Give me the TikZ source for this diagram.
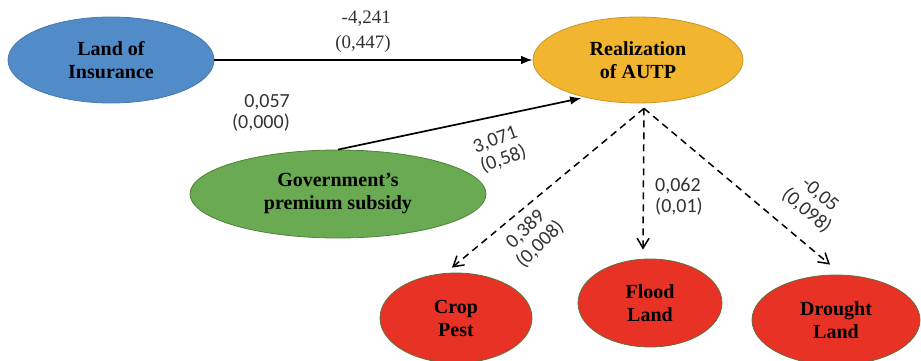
\documentclass[tikz,border=0pt]{standalone}
\usepackage{fontspec}
\setmainfont{Liberation Serif}
\newfontfamily\numfont{Carlito}
\usepackage{xcolor}
\usepackage{tikz}
\usetikzlibrary{arrows.meta,positioning,shapes.geometric}
\definecolor{landblue}{RGB}{81,139,200}
\definecolor{landedge}{RGB}{70,120,175}
\definecolor{autpgold}{RGB}{242,181,47}
\definecolor{autpedge}{RGB}{200,150,40}
\definecolor{subsgreen}{RGB}{106,170,82}
\definecolor{subsedge}{RGB}{80,130,55}
\definecolor{riskred}{RGB}{232,50,38}
\definecolor{riskedge}{RGB}{100,110,60}
\tikzset{
  factor/.style={ellipse, draw, line width=0.8pt, align=center, inner sep=0pt,
    font=\fontsize{20}{23}\selectfont\bfseries},
  landbox/.style={factor, fill=landblue, draw=landedge},
  autpbox/.style={factor, fill=autpgold, draw=autpedge},
  subsbox/.style={factor, fill=subsgreen, draw=subsedge},
  riskbox/.style={factor, fill=riskred, draw=riskedge},
  coef/.style={align=center, inner sep=1pt, text=black!80,
    font=\numfont\fontsize{20}{21}\selectfont},
  flow/.style={-{Latex[length=4mm,width=3mm]}, line width=1.7pt},
  dashflow/.style={-{Straight Barb[length=3.5mm,width=4.2mm]}, line width=1.5pt,
    dash pattern=on 7pt off 5pt}
}

\begin{document}
\begin{tikzpicture}[x=1pt, y=1pt]
\useasboundingbox (0,0) rectangle (921,360);

\node[landbox, minimum width=206pt, minimum height=86pt] (land) at (111,300) {Land of\\Insurance};
\node[autpbox, minimum width=210pt, minimum height=86pt] (autp) at (638,300) {Realization\\of AUTP};
\node[subsbox, minimum width=296pt, minimum height=88pt] (subs) at (338,166) {Government's\\premium subsidy};
\node[riskbox, minimum width=152pt, minimum height=90pt] (crop) at (456,42) {Crop\\Pest};
\node[riskbox, minimum width=144pt, minimum height=88pt] (flood) at (650,57) {Flood\\Land};
\node[riskbox, minimum width=168pt, minimum height=90pt] (drought) at (836,40) {Drought\\Land};

\coordinate (fork) at ([xshift=6pt,yshift=-5pt]autp.south);

\draw[flow] (land.east) -- (autp.west);
\draw[flow] (subs.north) -- ([xshift=-6pt]autp.217);
\draw[dashflow] (fork) -- ([xshift=-4pt,yshift=5pt]crop.north);
\draw[dashflow] (fork) -- ([xshift=-7pt,yshift=9pt]flood.north);
\draw[dashflow] (fork) -- ([xshift=-6pt,yshift=10pt]drought.north);

\node[coef, align=right, anchor=east, font=\rmfamily\fontsize{19}{25}\selectfont] (c1) at (392,328) {-4,241\\(0,447)};
\node[coef, align=right, anchor=east] (c2) at (291,247) {0,057\\(0,000)};
\node[coef, align=left, rotate=20] (c3) at (500,210) {3,071\\(0,58)};
\node[coef, rotate=44] (c4) at (533,123) {0,389\\(0,008)};
\node[coef, align=left, anchor=west] (c5) at (654,163) {0,062\\(0,01)};
\node[coef, rotate=-40] (c6) at (813,157) {-0,05\\(0,098)};
\end{tikzpicture}
\end{document}
